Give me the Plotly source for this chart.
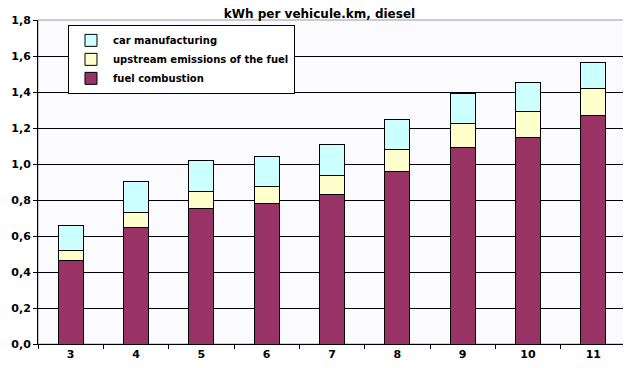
import plotly.graph_objects as go

categories = ["3", "4", "5", "6", "7", "8", "9", "10", "11"]
fuel_combustion = [0.463, 0.645, 0.755, 0.778, 0.833, 0.961, 1.094, 1.150, 1.268]
upstream = [0.055, 0.083, 0.093, 0.098, 0.103, 0.117, 0.129, 0.140, 0.151]
car_manufacturing = [0.143, 0.177, 0.172, 0.167, 0.172, 0.172, 0.171, 0.165, 0.147]
y_ticks = [0.0, 0.2, 0.4, 0.6, 0.8, 1.0, 1.2, 1.4, 1.6, 1.8]

FONT = "DejaVu Sans"

fig = go.Figure()
series = [
    ("fuel combustion", fuel_combustion, "#993366"),
    ("upstream emissions of the fuel", upstream, "#FFFFCC"),
    ("car manufacturing", car_manufacturing, "#CCFFFF"),
]
for name, vals, col in series:
    fig.add_trace(go.Bar(
        x=categories, y=vals, name=name,
        marker=dict(color=col, line=dict(color="black", width=1)),
    ))

# page body adds an 8px margin; figure sized so that it fills the 631x368 window
fig.update_layout(
    width=623, height=360,
    barmode="stack", bargap=0.615,
    separators=",.",
    paper_bgcolor="white", plot_bgcolor="#FBFAFE",
    margin=dict(l=30, r=5, t=12, b=24, autoexpand=False),
    font=dict(family=FONT, size=11, color="black", weight="bold"),
    title=dict(text="kWh per vehicule.km, diesel", x=0.5, xanchor="center",
               y=1 - 6 / 360, yanchor="middle",
               font=dict(family=FONT, size=12, color="black", weight="bold")),
    legend=dict(
        x=0.051, y=0.985, xanchor="left", yanchor="top",
        bgcolor="white", bordercolor="black", borderwidth=1,
        traceorder="reversed", itemwidth=34,
        font=dict(family=FONT, size=10, color="black", weight="bold"),
    ),
    showlegend=True,
    shapes=[dict(type="rect", xref="paper", yref="paper", x0=0, x1=1, y0=0, y1=1,
                 line=dict(color="#9a9a9a", width=1), layer="below")],
)
fig.update_xaxes(
    type="category", showline=True, linecolor="black", linewidth=1,
    ticks="outside", tickson="boundaries", ticklen=4, tickcolor="black",
    showgrid=False, automargin=False,
)
fig.update_yaxes(
    range=[0, 1.8], tickvals=y_ticks, tickformat=".1f",
    showline=True, linecolor="black", linewidth=1,
    ticks="outside", ticklen=4, tickcolor="black",
    showgrid=True, gridcolor="black", gridwidth=1, zeroline=False,
    automargin=False,
)

fig.write_html("out.html")
